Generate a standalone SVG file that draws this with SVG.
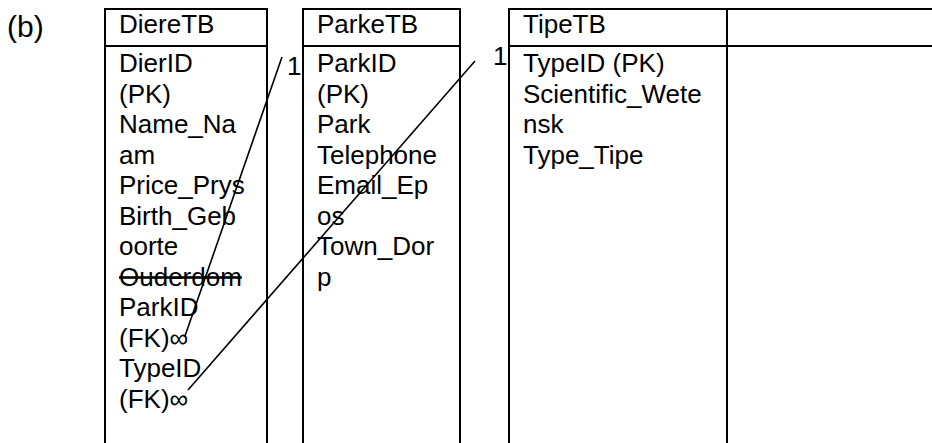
<svg xmlns="http://www.w3.org/2000/svg" width="932" height="443" viewBox="0 0 932 443">
<style>
.t{font-family:"Liberation Sans",Arial,sans-serif;font-size:26px;fill:#000}
.b{fill:none;stroke:#000;stroke-width:2}
.c{stroke:#000;stroke-width:1.6;fill:none}
</style>
<rect width="932" height="443" fill="#fff"/>
<text class="t" x="7" y="37" style="font-size:30px">(b)</text>
<g id="DiereTB">
<path class="b" d="M105,443 V9 H267 V443 M105,46 H267"/>
<text class="t" x="119" y="33">DiereTB</text>
<text class="t" x="119" y="72">DierID</text>
<text class="t" x="119" y="102.5">(PK)</text>
<text class="t" x="119" y="133">Name_Na</text>
<text class="t" x="119" y="163.5">am</text>
<text class="t" x="119" y="194">Price_Prys</text>
<text class="t" x="119" y="224.5">Birth_Geb</text>
<text class="t" x="119" y="255">oorte</text>
<text class="t" x="119" y="285.5" text-decoration="line-through">Ouderdom</text>
<text class="t" x="119" y="316">ParkID</text>
<text class="t" x="119" y="346.5">(FK)∞</text>
<text class="t" x="119" y="377">TypeID</text>
<text class="t" x="119" y="407.5">(FK)∞</text>
</g>
<g id="ParkeTB">
<path class="b" d="M303,443 V9 H460 V443 M303,46 H460"/>
<text class="t" x="317" y="33">ParkeTB</text>
<text class="t" x="317" y="72">ParkID</text>
<text class="t" x="317" y="102.5">(PK)</text>
<text class="t" x="317" y="133">Park</text>
<text class="t" x="317" y="163.5">Telephone</text>
<text class="t" x="317" y="194">Email_Ep</text>
<text class="t" x="317" y="224.5">os</text>
<text class="t" x="317" y="255">Town_Dor</text>
<text class="t" x="317" y="285.5">p</text>
</g>
<g id="TipeTB">
<path class="b" d="M509,443 V9 H932 M509,46 H932 M727,9 V443"/>
<text class="t" x="523" y="33">TipeTB</text>
<text class="t" x="523" y="72">TypeID (PK)</text>
<text class="t" x="523" y="102.5">Scientific_Wete</text>
<text class="t" x="523" y="133">nsk</text>
<text class="t" x="523" y="163.5">Type_Tipe</text>
</g>
<g id="connectors">
<line class="c" x1="282" y1="57" x2="185" y2="336"/>
<text class="t" x="287" y="75">1</text>
<line class="c" x1="475" y1="61" x2="188" y2="390"/>
<text class="t" x="493" y="65">1</text>
</g>
</svg>
